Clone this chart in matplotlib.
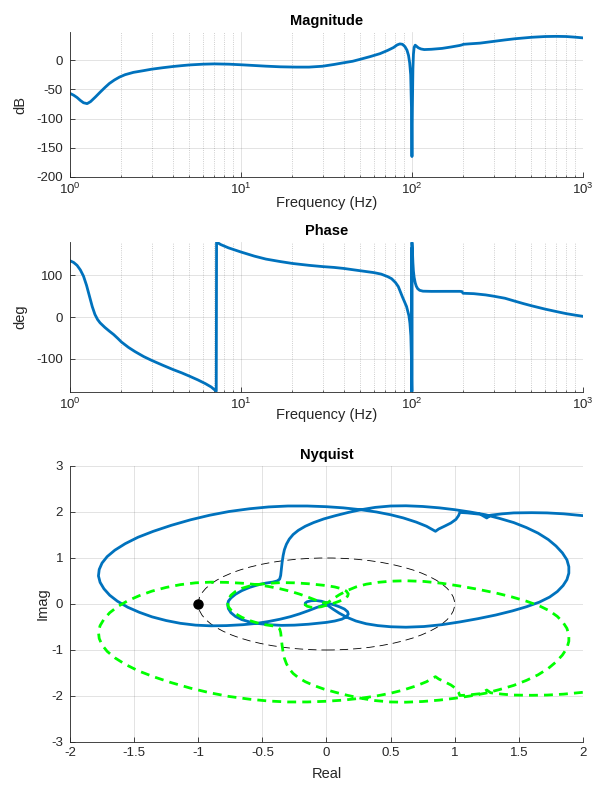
import matplotlib
matplotlib.use('Agg')
from matplotlib import pyplot as plt
from matplotlib.patches import Circle
from matplotlib.ticker import LogLocator, NullFormatter, FixedLocator

plt.rcParams['font.family'] = ['Liberation Sans', 'DejaVu Sans']
plt.rcParams['mathtext.fontset'] = 'custom'
plt.rcParams['mathtext.rm'] = 'Liberation Sans'
plt.rcParams['mathtext.it'] = 'Liberation Sans:italic'
plt.rcParams['axes.unicode_minus'] = False

# Bode magnitude: (Hz, dB)
mag_points = [
    (1.0, -57), (1.05, -60), (1.1, -64), (1.15, -69), (1.2, -73), (1.26, -74.5),
    (1.32, -71), (1.41, -63), (1.5, -55), (1.6, -47), (1.7, -40), (1.82, -34),
    (1.95, -29), (2.1, -25), (2.35, -21), (2.7, -18), (3.0, -15.6), (3.5, -13),
    (4.0, -11), (4.5, -9.5), (5.0, -8.3), (6.0, -7), (7.0, -6.5), (8.5, -7),
    (10, -8), (12, -9.3), (14, -10.4), (17, -11.5), (21, -12), (25, -12),
    (30, -10.5), (35, -7.5), (40, -4.5), (45, -2), (50, 1.5), (57, 6),
    (65, 11), (72, 16.5), (78, 21.5), (82, 26), (85, 27.7), (88, 27),
    (91, 23), (93.5, 17), (95.5, 8), (97, -5), (98.3, -25), (99.3, -80),
    (100, -165), (100.6, -80), (101.3, -15), (102, 10), (103, 22), (104.5, 25.5),
    (106, 24), (109, 21), (113, 19), (118, 18), (130, 18.5), (150, 20),
    (170, 22.5), (190, 25), (196, 26), (200, 27), (215, 27.7), (250, 29),
    (300, 32), (350, 34.5), (400, 36.5), (500, 39), (600, 40.3), (700, 40.6),
    (800, 40.3), (900, 39.2), (1000, 38),
]

# Bode phase: (Hz, deg)
phase_points = [
    (1.0, 135), (1.05, 131), (1.1, 124), (1.15, 113), (1.2, 98), (1.25, 76),
    (1.3, 50), (1.35, 25), (1.4, 6), (1.45, -6), (1.5, -14), (1.6, -25),
    (1.7, -34), (1.8, -42), (1.9, -51), (2.0, -60), (2.2, -73), (2.4, -83),
    (2.7, -95), (3.0, -104), (3.5, -116), (4.0, -126), (4.5, -134), (5.0, -142),
    (5.6, -151), (6.2, -160), (6.7, -168), (7.17, -178), (7.2, 180), (7.6, 174),
    (8.45, 166), (10, 156), (12, 146), (14, 139), (17, 133), (20, 128.5),
    (25, 124), (30, 121), (35, 119), (40, 116.5), (46, 113), (52, 110),
    (60, 106.5), (66, 103), (72, 97), (76, 92), (80, 83), (83.2, 73),
    (88, 48), (93, 25), (96, 3), (97.3, -15), (98.5, -45), (99.3, -100),
    (99.6, -179), (99.65, 165), (99.75, -150), (99.9, -179), (100.0, 179), (100.6, 160),
    (101.3, 130), (102, 110), (103, 95), (104.5, 82), (106, 74), (108, 68),
    (111, 64), (116, 62), (130, 61.5), (160, 61.6), (190, 61.6), (196, 61),
    (199, 57), (230, 56), (270, 53), (300, 50), (350, 45), (400, 38),
    (450, 32), (500, 27), (600, 19), (700, 13), (800, 8), (900, 4.5),
    (1000, 1.6),
]

# Nyquist path for positive frequencies, in pieces: (Re, Im)
nyq_hook = [
    (-0.165, -0.01), (-0.165, 0.02), (-0.15, 0.05), (-0.12, 0.07), (-0.08, 0.075),
    (-0.04, 0.06), (-0.01, 0.035), (0.02, 0.01), (0.06, -0.02), (0.1, -0.06),
    (0.14, -0.11), (0.165, -0.17), (0.17, -0.22), (0.155, -0.28), (0.12, -0.33),
    (0.065, -0.37),
]
nyq_inner = [
    (0.0, -0.40), (-0.07, -0.42), (-0.14, -0.44), (-0.25, -0.46), (-0.35, -0.465),
    (-0.45, -0.45), (-0.53, -0.425), (-0.6, -0.39), (-0.66, -0.34), (-0.71, -0.27),
    (-0.745, -0.19), (-0.765, -0.1), (-0.77, -0.02), (-0.765, 0.06), (-0.745, 0.13),
    (-0.71, 0.21), (-0.66, 0.29), (-0.6, 0.36), (-0.53, 0.42), (-0.47, 0.455),
    (-0.42, 0.475), (-0.385, 0.5), (-0.365, 0.54),
]
nyq_right = [
    (-0.357, 0.62), (-0.352, 0.75), (-0.346, 0.9), (-0.338, 1.05), (-0.328, 1.18),
    (-0.312, 1.3), (-0.29, 1.41), (-0.26, 1.51), (-0.22, 1.6), (-0.165, 1.69),
    (-0.1, 1.77), (-0.02, 1.85), (0.07, 1.92), (0.17, 1.99), (0.27, 2.05),
    (0.38, 2.1), (0.5, 2.13), (0.62, 2.135), (0.75, 2.12), (0.88, 2.09),
    (1.0, 2.05), (1.12, 2.0), (1.24, 1.94), (1.35, 1.86), (1.46, 1.77),
    (1.56, 1.66), (1.65, 1.54), (1.73, 1.4), (1.79, 1.26), (1.84, 1.11),
    (1.875, 0.96), (1.89, 0.81), (1.89, 0.67), (1.875, 0.53), (1.845, 0.4),
    (1.8, 0.27), (1.74, 0.15), (1.66, 0.04), (1.56, -0.06), (1.45, -0.15),
    (1.32, -0.24), (1.18, -0.32), (1.04, -0.39), (0.9, -0.45), (0.76, -0.49),
    (0.62, -0.505), (0.5, -0.495), (0.4, -0.47), (0.31, -0.43), (0.23, -0.37),
    (0.16, -0.29), (0.1, -0.2), (0.05, -0.11), (0.01, -0.03),
]
nyq_left = [
    (-0.03, -0.03), (-0.08, -0.08), (-0.14, -0.145), (-0.21, -0.215), (-0.28, -0.275),
    (-0.36, -0.33), (-0.45, -0.38), (-0.54, -0.42), (-0.65, -0.45), (-0.78, -0.47),
    (-0.9, -0.475), (-1.02, -0.46), (-1.14, -0.42), (-1.25, -0.36), (-1.36, -0.28),
    (-1.46, -0.18), (-1.55, -0.07), (-1.63, 0.06), (-1.69, 0.19), (-1.735, 0.33),
    (-1.765, 0.47), (-1.778, 0.61), (-1.772, 0.75), (-1.75, 0.89), (-1.71, 1.03),
    (-1.65, 1.17), (-1.57, 1.31), (-1.47, 1.45), (-1.35, 1.58), (-1.21, 1.71),
    (-1.06, 1.83), (-0.91, 1.93), (-0.76, 2.01), (-0.6, 2.07), (-0.45, 2.11),
    (-0.3, 2.13), (-0.15, 2.13), (0.0, 2.115), (0.13, 2.09), (0.265, 2.05),
    (0.39, 2.0), (0.5, 1.94), (0.6, 1.87), (0.7, 1.78), (0.78, 1.69),
    (0.85, 1.58),
]
nyq_tail = [
    (0.875, 1.63), (0.92, 1.69), (0.97, 1.76), (1.01, 1.84), (1.03, 1.92),
    (1.04, 1.99), (1.1, 1.98), (1.2, 1.95), (1.25, 1.87), (1.28, 1.93),
    (1.37, 1.96), (1.46, 1.98), (1.6, 1.985), (1.72, 1.98), (1.85, 1.96),
    (2.0, 1.92),
]

blue = '#0072BD'
dark = '#262626'

mag_f, mag_db = zip(*mag_points)
ph_f, ph_deg = zip(*phase_points)
nyq_re, nyq_im = zip(*(nyq_hook + nyq_inner + nyq_right + nyq_left + nyq_tail))

fig = plt.figure(figsize=(5.96, 7.87), dpi=100)
ax_mag = fig.add_axes([0.1174, 0.7751, 0.8607, 0.1842])
ax_ph = fig.add_axes([0.1174, 0.5019, 0.8607, 0.1906])
ax_nyq = fig.add_axes([0.1174, 0.0572, 0.8607, 0.3507])


def style(a):
    for s in ['top', 'right']:
        a.spines[s].set_visible(False)
    for s in ['left', 'bottom']:
        a.spines[s].set_color(dark)
        a.spines[s].set_linewidth(0.6)
    a.tick_params(which='major', direction='in', length=3.5, width=0.6,
                  colors=dark, labelsize=9.5, labelcolor=dark)
    a.tick_params(axis='y', pad=5)
    a.tick_params(which='minor', direction='in', length=1.8, width=0.5, colors=dark)
    a.grid(True, which='major', color=dark, alpha=0.15, lw=0.6, ls='-')
    a.set_axisbelow(True)


for a in [ax_mag, ax_ph]:
    a.set_xscale('log')
    a.set_xlim(1, 1000)
    a.xaxis.set_minor_locator(LogLocator(base=10, subs=range(2, 10)))
    a.xaxis.set_minor_formatter(NullFormatter())
    style(a)
    a.grid(True, which='minor', axis='x', color=dark, alpha=0.3, lw=0.6, ls=':')
    a.set_xlabel('Frequency (Hz)', fontsize=10.5, color=dark)

ax_mag.plot(mag_f, mag_db, color=blue, lw=2)
ax_mag.set_ylim(-200, 48)
ax_mag.yaxis.set_major_locator(FixedLocator([-200, -150, -100, -50, 0]))
ax_mag.set_title('Magnitude', fontsize=10.5, fontweight='bold', pad=5)
ax_mag.set_ylabel('dB', fontsize=10.5, color=dark)
ax_mag.xaxis.set_label_coords(0.5, -0.13)
ax_mag.yaxis.set_label_coords(-0.083, 0.5)

ax_ph.plot(ph_f, ph_deg, color=blue, lw=2)
ax_ph.set_ylim(-180, 180)
ax_ph.yaxis.set_major_locator(FixedLocator([-100, 0, 100]))
ax_ph.set_title('Phase', fontsize=10.5, fontweight='bold', pad=5)
ax_ph.set_ylabel('deg', fontsize=10.5, color=dark)
ax_ph.xaxis.set_label_coords(0.5, -0.105)
ax_ph.yaxis.set_label_coords(-0.083, 0.5)

# Nyquist: positive frequencies solid, mirror image dashed
style(ax_nyq)
ax_nyq.plot(nyq_re, nyq_im, color=blue, lw=2)
ax_nyq.plot(nyq_re, [-v for v in nyq_im], color='#00FF00', lw=2, ls=(0, (3.2, 2.2)))
ax_nyq.add_patch(Circle((0, 0), 1, fill=False, ec='black', lw=0.6, ls=(0, (10, 6))))
ax_nyq.plot([-1], [0], 'o', color='black', ms=6.5)
ax_nyq.set_xlim(-2, 2)
ax_nyq.set_ylim(-3, 3)
ax_nyq.set_xticks([-2, -1.5, -1, -0.5, 0, 0.5, 1, 1.5, 2])
ax_nyq.set_xticklabels(['-2', '-1.5', '-1', '-0.5', '0', '0.5', '1', '1.5', '2'])
ax_nyq.set_yticks([-3, -2, -1, 0, 1, 2, 3])
ax_nyq.set_yticklabels(['-3', '-2', '-1', '0', '1', '2', '3'])
ax_nyq.set_title('Nyquist', fontsize=10.5, fontweight='bold', pad=5)
ax_nyq.set_xlabel('Real', fontsize=10.5, color=dark)
ax_nyq.set_ylabel('Imag', fontsize=10.5, color=dark)
ax_nyq.xaxis.set_label_coords(0.5, -0.09)
ax_nyq.yaxis.set_label_coords(-0.04, 0.5)

fig.savefig('out.png', dpi=100)
